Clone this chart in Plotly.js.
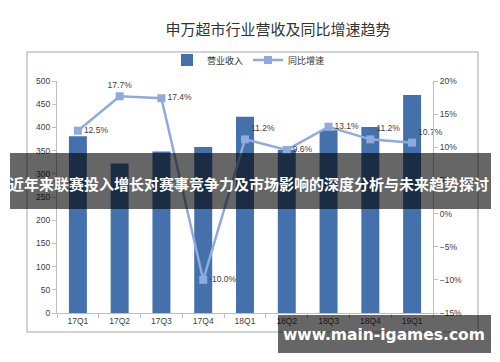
<!DOCTYPE html>
<html><head><meta charset="utf-8">
<script src="https://cdn.plot.ly/plotly-3.0.1.min.js"></script>
<style>html,body{margin:0;padding:0;background:#fff}#c{width:500px;height:362px}</style>
</head><body><div id="c"></div>
<script>
const categories = ['17Q1','17Q2','17Q3','17Q4','18Q1','18Q2','18Q3','18Q4','19Q1'];
const revenue = [381, 322, 348, 358, 423, 352, 394, 401, 470];
const growth = [12.5, 17.7, 17.4, -10.0, 11.2, 9.6, 13.1, 11.2, 10.7];
const growthLabels = ['12.5%','17.7%','17.4%','-10.0%','11.2%','9.6%','13.1%','11.2%','10.7%'];
const labelPos = ['middle right','top center','middle right','middle right','top right','middle right','middle right','top right','top right'];
const seriesNames = ['营业收入','同比增速'];
const titleText = '申万超市行业营收及同比增速趋势';
const bannerText = '近年来联赛投入增长对赛事竞争力及市场影响的深度分析与未来趋势探讨';
const watermarkText = 'www.main-igames.com';

const L=57, R=433, T=81, B=313;
const px = x => (x-L)/(R-L);
const py = y => (B-y)/(B-T);
const font = '"Liberation Sans","Noto Sans CJK SC",sans-serif';

const traces = [
  {type:'bar', x:categories, y:revenue, name:seriesNames[0], marker:{color:'#4471AB'}, width:0.43, yaxis:'y'},
  {type:'scatter', mode:'lines+markers+text', x:categories, y:growth, name:seriesNames[1], yaxis:'y2',
   line:{color:'#8FAADC', width:2.5}, marker:{symbol:'square', size:8, color:'#8FAADC'},
   text:growthLabels, textposition:labelPos, textfont:{size:8.5, color:'#404040', family:font}, cliponaxis:false}
];

const layout = {
  width:500, height:362, margin:{l:L, r:500-R, t:T, b:362-B},
  paper_bgcolor:'#fff', plot_bgcolor:'#fff',
  font:{family:font, color:'#404040', size:9},
  title:{text:titleText, x:278/500, xref:'container', xanchor:'center', y:1-30/362, yref:'container', yanchor:'middle', font:{size:15, color:'#333', family:font}},
  showlegend:true,
  legend:{orientation:'h', x:px(248), xanchor:'center', y:py(60), yanchor:'middle', font:{size:9, color:'#333'}, bgcolor:'rgba(0,0,0,0)', itemwidth:30, entrywidth:36},
  bargap:0.57,
  xaxis:{type:'category', showline:true, linecolor:'#BFBFBF', linewidth:1, ticks:'outside', tickson:'boundaries', ticklen:4, tickcolor:'#BFBFBF', tickfont:{size:8.5, color:'#404040'}, showgrid:false, zeroline:false, range:[-0.5,8.5], fixedrange:true},
  yaxis:{range:[0,500], dtick:50, showline:true, linecolor:'#BFBFBF', ticks:'outside', ticklen:4, tickcolor:'#BFBFBF', tickfont:{size:8.5,color:'#404040'}, showgrid:false, zeroline:false},
  yaxis2:{overlaying:'y', side:'right', range:[-15,20], dtick:5, ticksuffix:'%', showline:true, linecolor:'#BFBFBF', ticks:'outside', ticklen:4, tickcolor:'#BFBFBF', tickfont:{size:8.5,color:'#404040'}, showgrid:false, zeroline:false},
  shapes:[
    {type:'rect', xref:'paper', yref:'paper', x0:px(27), x1:px(478), y0:py(332), y1:py(52), line:{color:'#A6A6A6', width:1}, fillcolor:'rgba(0,0,0,0)', layer:'below'},
    {type:'rect', xref:'paper', yref:'paper', x0:px(10), x1:px(491), y0:py(209), y1:py(153), line:{width:0}, fillcolor:'rgba(0,0,0,0.6)', layer:'above'},
    {type:'rect', xref:'paper', yref:'paper', x0:px(278), x1:px(491), y0:py(353), y1:py(315), line:{width:0}, fillcolor:'rgba(0,0,0,0.6)', layer:'above'}
  ],
  annotations:[
    {text:'<b>'+bannerText+'</b>', xref:'paper', yref:'paper', x:px(249), y:py(183), xanchor:'center', yanchor:'middle', showarrow:false, font:{size:15, color:'#fff', family:'"Noto Sans CJK SC",sans-serif'}},
    {text:'<b>'+watermarkText+'</b>', xref:'paper', yref:'paper', x:px(384), y:py(335), xanchor:'center', yanchor:'middle', showarrow:false, font:{size:15.5, color:'#fff', family:'"DejaVu Sans",sans-serif'}}
  ]
};
Plotly.newPlot('c', traces, layout, {displayModeBar:false, staticPlot:true});
</script></body></html>
